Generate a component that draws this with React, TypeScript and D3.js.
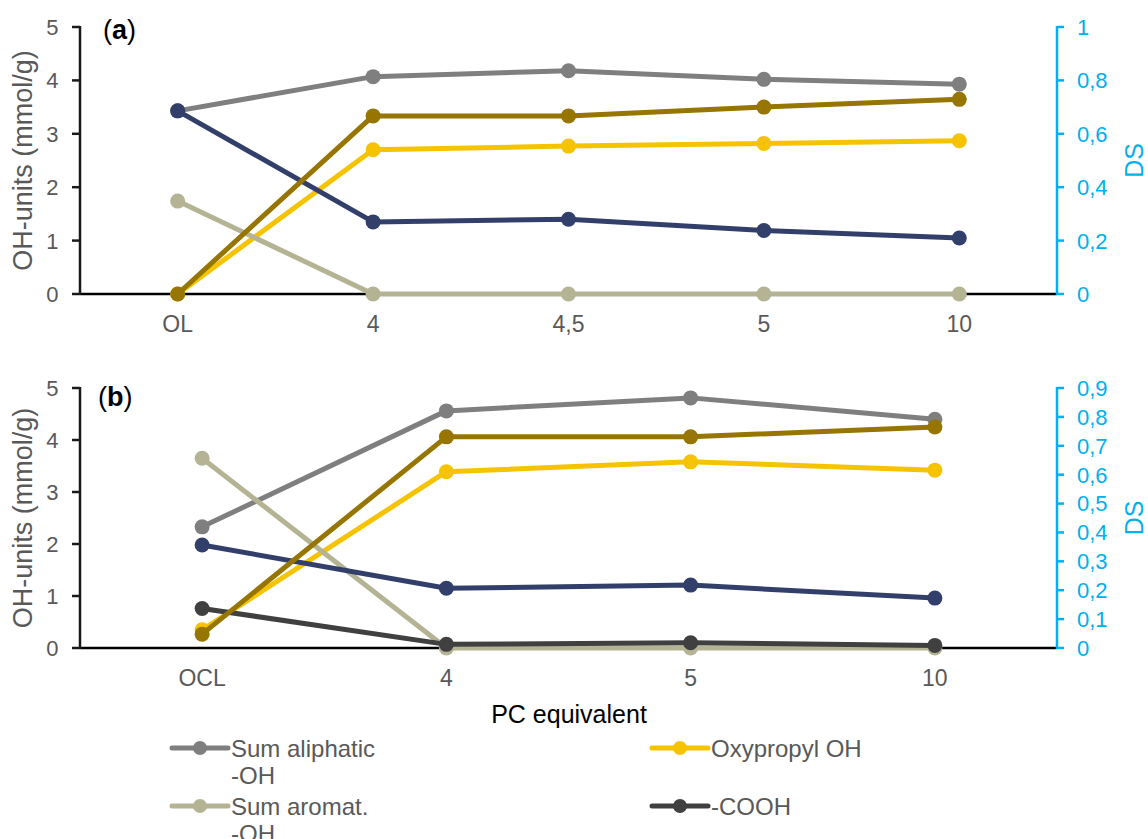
import React from "react";
import * as d3 from "d3";

// ---------- data ----------
const catsA = ["OL", "4", "4,5", "5", "10"];
const aliphaticA = [3.43, 4.07, 4.18, 4.02, 3.93];
const oxypropylA = [0, 2.7, 2.77, 2.82, 2.87];
const aromaticA = [1.74, 0, 0, 0, 0];
const navyA = [3.43, 1.35, 1.4, 1.19, 1.05];
const dsA = [0, 0.667, 0.667, 0.7, 0.729];

const catsB = ["OCL", "4", "5", "10"];
const aliphaticB = [2.33, 4.56, 4.81, 4.4];
const oxypropylB = [0.35, 3.39, 3.58, 3.42];
const aromaticB = [3.65, 0, 0, 0];
const coohB = [0.76, 0.07, 0.1, 0.05];
const navyB = [1.98, 1.15, 1.21, 0.96];
const dsB = [0.048, 0.731, 0.731, 0.765];

const leftTicks = [0, 1, 2, 3, 4, 5];
const rightTicksA = [0, 0.2, 0.4, 0.6, 0.8, 1];
const rightTicksB = [0, 0.1, 0.2, 0.3, 0.4, 0.5, 0.6, 0.7, 0.8, 0.9];

const C = {
  aliphatic: "#7f7f7f",
  oxypropyl: "#f5c300",
  aromatic: "#b4b495",
  cooh: "#404040",
  navy: "#323f6a",
  ds: "#967500",
};

const FONT = "'Liberation Sans', Arial, sans-serif";
const TICK_GRAY = "#595959";
const DS_BLUE = "#00b0f0";

type Series = { values: number[]; color: string; axis: "left" | "right" };

const fmt = (v: number) => (v === 0 || v === 1 ? String(v) : String(v).replace(".", ","));

function Panel(props: {
  top: number;
  bottom: number;
  cats: string[];
  series: Series[];
  rightMax: number;
  rightTicks: number[];
  label: string;
  catLabelY: number;
  labelX: number;
  labelY: number;
}) {
  const { top, bottom, cats, series, rightMax, rightTicks, label, catLabelY, labelX, labelY } = props;
  const x0 = 80;
  const x1 = 1057;
  const xs = d3.scaleBand<string>().domain(cats).range([x0, x1]);
  const xc = (i: number) => (xs(cats[i]) as number) + xs.bandwidth() / 2;
  const yL = d3.scaleLinear().domain([0, 5]).range([bottom, top]);
  const yR = d3.scaleLinear().domain([0, rightMax]).range([bottom, top]);
  const mid = (top + bottom) / 2;

  return (
    <g>
      {/* x axis */}
      <line x1={x0} x2={x1} y1={bottom} y2={bottom} stroke="#000" strokeWidth={2.5} />
      {/* left axis */}
      <line x1={x0} x2={x0} y1={top - 1} y2={bottom + 1} stroke="#1a1a1a" strokeWidth={2.5} />
      {leftTicks.map((t) => (
        <g key={"l" + t}>
          <line x1={x0 - 8} x2={x0} y1={yL(t)} y2={yL(t)} stroke="#1a1a1a" strokeWidth={2.5} />
          <text
            x={58.5}
            y={yL(t)}
            dy="0.36em"
            textAnchor="end"
            fontSize={22}
            fill={TICK_GRAY}
            fontFamily={FONT}
          >
            {t}
          </text>
        </g>
      ))}
      {/* right axis */}
      <line x1={x1} x2={x1} y1={top - 1} y2={bottom + 1} stroke={DS_BLUE} strokeWidth={2.5} />
      {rightTicks.map((t) => (
        <g key={"r" + t}>
          <line x1={x1} x2={x1 + 7} y1={yR(t)} y2={yR(t)} stroke={DS_BLUE} strokeWidth={2.5} />
          <text x={1077} y={yR(t)} dy="0.36em" fontSize={22} fill={DS_BLUE} fontFamily={FONT}>
            {fmt(t)}
          </text>
        </g>
      ))}
      {/* category labels */}
      {cats.map((c, i) => (
        <text
          key={"c" + c}
          x={xc(i)}
          y={catLabelY}
          textAnchor="middle"
          fontSize={23}
          fill={TICK_GRAY}
          fontFamily={FONT}
        >
          {c}
        </text>
      ))}
      {/* axis titles */}
      <text
        transform={`translate(32,${mid}) rotate(-90)`}
        textAnchor="middle"
        fontSize={27}
        fill={TICK_GRAY}
        fontFamily={FONT}
      >
        OH-units (mmol/g)
      </text>
      <text
        transform={`translate(1143,${mid}) rotate(-90)`}
        textAnchor="middle"
        fontSize={25}
        fill={DS_BLUE}
        fontFamily={FONT}
      >
        DS
      </text>
      {/* panel label */}
      <text x={labelX} y={labelY} fontSize={27} fill="#000" fontFamily={FONT}>
        (<tspan fontWeight="bold">{label}</tspan>)
      </text>
      {/* series */}
      {series.map((s, si) => {
        const y = s.axis === "left" ? yL : yR;
        const line = d3
          .line<number>()
          .x((_, i) => xc(i))
          .y((v) => y(v));
        return (
          <g key={"s" + si}>
            <path d={line(s.values) || ""} fill="none" stroke={s.color} strokeWidth={5} strokeLinejoin="round" />
            {s.values.map((v, i) => (
              <circle key={i} cx={xc(i)} cy={y(v)} r={7.5} fill={s.color} />
            ))}
          </g>
        );
      })}
    </g>
  );
}

function LegendItem(props: { x: number; y: number; color: string; lines: string[] }) {
  const { x, y, color, lines } = props;
  return (
    <g>
      <line x1={x} x2={x + 56} y1={y} y2={y} stroke={color} strokeWidth={5} strokeLinecap="round" />
      <circle cx={x + 28} cy={y} r={7} fill={color} />
      {lines.map((l, i) => (
        <text
          key={i}
          x={x + 59}
          y={y + i * 27}
          dy="0.36em"
          fontSize={24}
          fill={TICK_GRAY}
          fontFamily={FONT}
        >
          {l}
        </text>
      ))}
    </g>
  );
}

export default function App() {
  const seriesA: Series[] = [
    { values: aliphaticA, color: C.aliphatic, axis: "left" },
    { values: oxypropylA, color: C.oxypropyl, axis: "left" },
    { values: aromaticA, color: C.aromatic, axis: "left" },
    { values: navyA, color: C.navy, axis: "left" },
    { values: dsA, color: C.ds, axis: "right" },
  ];
  const seriesB: Series[] = [
    { values: aliphaticB, color: C.aliphatic, axis: "left" },
    { values: oxypropylB, color: C.oxypropyl, axis: "left" },
    { values: aromaticB, color: C.aromatic, axis: "left" },
    { values: coohB, color: C.cooh, axis: "left" },
    { values: navyB, color: C.navy, axis: "left" },
    { values: dsB, color: C.ds, axis: "right" },
  ];
  return (
    <svg
      width={1148}
      height={839}
      style={{ position: "absolute", left: 0, top: 0, display: "block", background: "#fff" }}
    >
      <rect width={1148} height={839} fill="#fff" />
      <Panel
        top={27}
        bottom={294}
        cats={catsA}
        series={seriesA}
        rightMax={1}
        rightTicks={rightTicksA}
        label="a"
        catLabelY={332}
        labelX={103}
        labelY={39}
      />
      <Panel
        top={388}
        bottom={648}
        cats={catsB}
        series={seriesB}
        rightMax={0.9}
        rightTicks={rightTicksB}
        label="b"
        catLabelY={686}
        labelX={98}
        labelY={406}
      />
      <text x={569} y={723} textAnchor="middle" fontSize={25} fill="#000" fontFamily={FONT}>
        PC equivalent
      </text>
      <LegendItem x={172} y={748} color={C.aliphatic} lines={["Sum aliphatic", "-OH"]} />
      <LegendItem x={652} y={748} color={C.oxypropyl} lines={["Oxypropyl OH"]} />
      <LegendItem x={172} y={806} color={C.aromatic} lines={["Sum aromat.", "-OH"]} />
      <LegendItem x={652} y={806} color={C.cooh} lines={["-COOH"]} />
    </svg>
  );
}
